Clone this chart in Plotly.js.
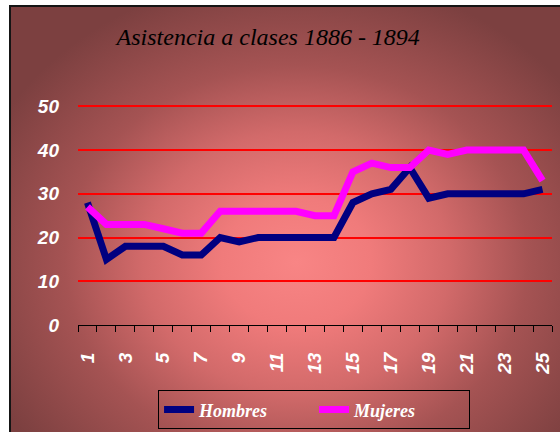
<!DOCTYPE html>
<html>
<head>
<meta charset="utf-8">
<script src="https://cdn.plot.ly/plotly-3.0.1.min.js"></script>
<style>
html, body { margin: 0; padding: 0; background: #ffffff; }
#frame { position: absolute; left: 9px; top: 5px; width: 551px; height: 427px;
  box-sizing: border-box; border-left: 2px solid #151515; border-top: 2px solid #151515;
  background: radial-gradient(ellipse 62% 68% at 52% 60%, #f88585 0%, #f07b7b 22%, #d26a6a 45%, #a55353 68%, #7c4040 100%); }
#chart { position: absolute; left: 0; top: 0; width: 560px; height: 432px; }
#chart .gtitle, #chart .legendtext { font-family: "Liberation Serif", "DejaVu Serif", serif !important; }
</style>
</head>
<body>
<div id="frame"></div>
<div id="chart"></div>
<script>
const sessions = [1,2,3,4,5,6,7,8,9,10,11,12,13,14,15,16,17,18,19,20,21,22,23,24,25];
const hombres = [28,15,18,18,18,16,16,20,19,20,20,20,20,20,28,30,31,36,29,30,30,30,30,30,31];
const mujeres = [27,23,23,23,22,21,21,26,26,26,26,26,25,25,35,37,36,36,40,39,40,40,40,40,33];
const yTicks = [0,10,20,30,40,50];
const xLabels = [1,3,5,7,9,11,13,15,17,19,21,23,25];
const xBoundaries = [];
for (let i = 0; i <= sessions.length; i++) xBoundaries.push(i + 0.5);

const sansFamily = 'Liberation Sans';
const serifFamily = 'Liberation Serif';
const tickFont = {family: sansFamily, size: 19, color: '#ffffff', weight: 'bold', style: 'italic'};

const traces = [
  {x: sessions, y: hombres, name: 'Hombres', type: 'scatter', mode: 'lines',
   line: {color: '#000080', width: 7}},
  {x: sessions, y: mujeres, name: 'Mujeres', type: 'scatter', mode: 'lines',
   line: {color: '#ff00ff', width: 7}}
];

const layout = {
  width: 560, height: 432,
  paper_bgcolor: 'rgba(0,0,0,0)', plot_bgcolor: 'rgba(0,0,0,0)',
  margin: {l: 78, r: 8, t: 105, b: 107, autoexpand: false},
  title: {text: 'Asistencia a clases 1886 - 1894', x: 0.479, xanchor: 'center', y: 0.915, yanchor: 'middle',
    font: {family: serifFamily, size: 24, color: '#000000', style: 'italic'}},
  xaxis: {range: [0.5, 25.5], tickvals: xLabels, ticktext: xLabels.map(String), tickangle: -90,
    ticks: '', showgrid: false, zeroline: false, showline: true, linecolor: '#000000', linewidth: 1,
    tickfont: tickFont, ticklabelstandoff: 19, automargin: false, fixedrange: true},
  xaxis2: {overlaying: 'x', anchor: 'y', side: 'bottom', range: [0.5, 25.5], tickvals: xBoundaries,
    showticklabels: false, ticks: 'outside', ticklen: 6, tickcolor: '#000000', tickwidth: 1,
    showgrid: false, zeroline: false, showline: false, automargin: false},
  yaxis: {range: [0, 50.3], tickvals: yTicks, ticks: '', showgrid: true, gridcolor: '#ff0000', gridwidth: 2,
    zeroline: false, showline: false, tickfont: tickFont, ticklabelstandoff: 18, automargin: false, fixedrange: true},
  showlegend: true,
  legend: {orientation: 'h', x: 0.498, xanchor: 'center', y: -0.297, yanchor: 'top',
    entrywidth: 110, entrywidthmode: 'pixels',
    bgcolor: 'rgba(0,0,0,0)', bordercolor: '#000000', borderwidth: 1,
    font: {family: serifFamily, size: 18, color: '#ffffff', weight: 'bold', style: 'italic'}}
};

Plotly.newPlot('chart', traces.concat([{x: [1], y: [0], xaxis: 'x2', yaxis: 'y', showlegend: false, hoverinfo: 'skip', mode: 'markers', marker: {opacity: 0}}]), layout, {displayModeBar: false, staticPlot: true});
</script>
</body>
</html>
